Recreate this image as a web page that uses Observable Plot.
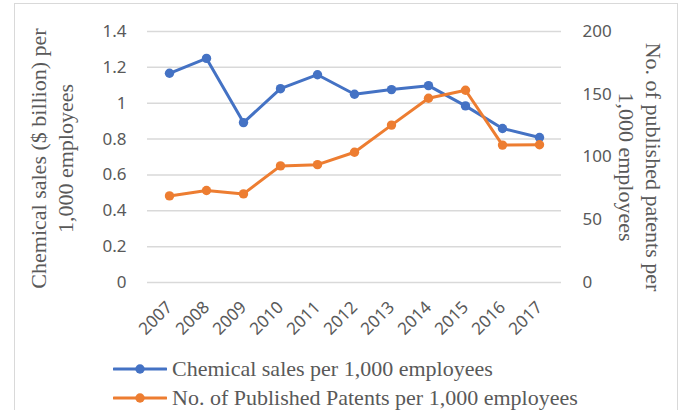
<!DOCTYPE html>
<html>
<head>
<meta charset="utf-8">
<script src="https://cdn.jsdelivr.net/npm/d3@7"></script>
<script src="https://cdn.jsdelivr.net/npm/@observablehq/plot@0.6"></script>
<style>
  html, body { margin: 0; padding: 0; background: #ffffff; }
  #chart { position: relative; width: 685px; height: 410px; overflow: hidden; }
  #frame { position: absolute; left: 14px; top: 3px; width: 664px; height: 430px; border: 1px solid #d9d9d9; box-sizing: border-box; }
  #plot { position: absolute; left: 0; top: 0; }
  #legend { position: absolute; left: 113px; top: 354px; font-family: "Liberation Serif", serif; font-size: 22px; color: #595959; }
  .row { display: flex; align-items: center; height: 29px; white-space: nowrap; }
  .row svg { display: block; margin-right: 5px; }
</style>
</head>
<body>
<div id="chart">
  <div id="frame"></div>
  <div id="plot"></div>
  <div id="legend"></div>
</div>
<script>
// Chemical industry indicators, 2007–2017
const years = [2007, 2008, 2009, 2010, 2011, 2012, 2013, 2014, 2015, 2016, 2017];
const salesPer1000 = [1.167, 1.25, 0.892, 1.081, 1.159, 1.05, 1.076, 1.098, 0.985, 0.859, 0.809];
const patentsPer1000 = [69.0, 73.3, 70.6, 92.9, 93.9, 103.8, 125.4, 146.8, 153.2, 109.5, 109.8];

const leftTicks = [0, 0.2, 0.4, 0.6, 0.8, 1, 1.2, 1.4];
const rightTicks = [0, 50, 100, 150, 200];

const seriesNames = ["Chemical sales per 1,000 employees", "No. of Published Patents per 1,000 employees"];
const seriesColors = ["#4472C4", "#ED7D31"];
const leftTitle = "Chemical sales ($ billion) per\n1,000 employees";
const rightTitle = "No. of published patents per\n1,000 employees";

// The patents series shares the left y scale: 200 patents lines up with 1.4
const leftMax = 1.4, rightMax = 200;
const k = leftMax / rightMax;

const rows = years.map((year, i) => ({year, sales: salesPer1000[i], patents: patentsPer1000[i]}));

const textColor = "#595959";

const chart = Plot.plot({
  width: 685,
  height: 345,
  marginLeft: 147,
  marginRight: 124,
  marginTop: 31,
  marginBottom: 63,
  style: {fontFamily: "Noto Sans", fontSize: "17px", color: textColor, background: "transparent", overflow: "visible"},
  x: {type: "point", domain: years, padding: 0.5},
  y: {domain: [0, leftMax]},
  marks: [
    Plot.gridY(leftTicks, {stroke: "#d9d9d9", strokeOpacity: 1, strokeWidth: 1.5}),
    Plot.axisY(leftTicks, {anchor: "left", tickSize: 0, tickPadding: 21, label: null,
      tickFormat: d => String(+d.toFixed(1)), fill: textColor}),
    Plot.axisY(rightTicks.map(v => v * k), {anchor: "right", tickSize: 0, tickPadding: 21, label: null,
      tickFormat: d => String(Math.round(d / k)), fill: textColor}),
    Plot.axisX(years, {anchor: "bottom", tickSize: 0, tickPadding: 22, tickRotate: -45, label: null,
      tickFormat: d => `${d}`, fill: textColor}),
    Plot.text([leftTitle], {frameAnchor: "left", textAnchor: "middle", lineAnchor: "middle", rotate: -90,
      dx: -96.5, dy: 1.5, fontFamily: "Liberation Serif", fontSize: 22, lineHeight: 1.23, fill: textColor}),
    Plot.text([rightTitle], {frameAnchor: "right", textAnchor: "middle", lineAnchor: "middle", rotate: 90,
      dx: 80, dy: 10, fontFamily: "Liberation Serif", fontSize: 22, lineHeight: 1.23, fill: textColor}),
    Plot.line(rows, {x: "year", y: "sales", stroke: seriesColors[0], strokeWidth: 3}),
    Plot.dot(rows, {x: "year", y: "sales", r: 4.7, fill: seriesColors[0], stroke: "none"}),
    Plot.line(rows, {x: "year", y: d => d.patents * k, stroke: seriesColors[1], strokeWidth: 3}),
    Plot.dot(rows, {x: "year", y: d => d.patents * k, r: 4.7, fill: seriesColors[1], stroke: "none"})
  ]
});
document.getElementById("plot").appendChild(chart);

// Legend rows: line-with-marker swatch followed by the series name
const legend = document.getElementById("legend");
seriesNames.forEach((name, i) => {
  const row = document.createElement("div");
  row.className = "row";
  row.innerHTML = `<svg width="54" height="12" viewBox="0 0 54 12">
      <line x1="1" y1="6" x2="53" y2="6" stroke="${seriesColors[i]}" stroke-width="3" stroke-linecap="round"/>
      <circle cx="27" cy="6" r="4.7" fill="${seriesColors[i]}"/>
    </svg><span>${name}</span>`;
  legend.appendChild(row);
});
</script>
</body>
</html>
